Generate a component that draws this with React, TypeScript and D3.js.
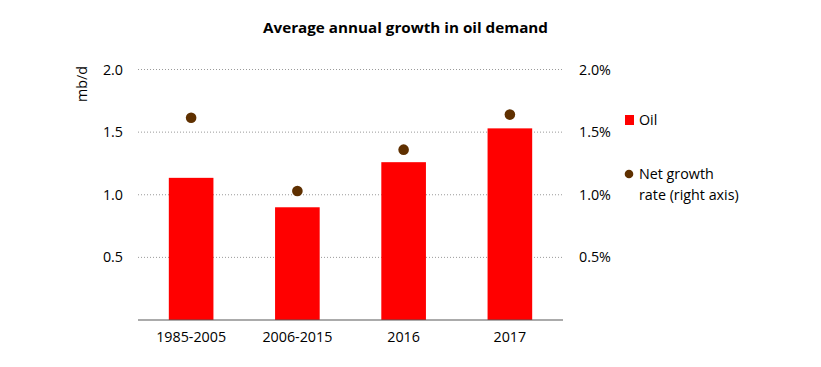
import React from 'react';
import * as d3 from 'd3';

// values
const periods = ['1985-2005', '2006-2015', '2016', '2017'];
const oilGrowth = [1.135, 0.9, 1.26, 1.53];      // mb/d
const netGrowthRate = [1.615, 1.03, 1.36, 1.64]; // %, right axis
const leftTicks = [0.5, 1.0, 1.5, 2.0];
const rightTicks = [0.5, 1.0, 1.5, 2.0];

const W = 821;
const H = 367;
const font = '"Open Sans", "Liberation Sans", Arial, sans-serif';

export default function App() {
  const left = 138, right = 563, top = 69.5, bottom = 320;

  const x = d3.scaleBand<string>()
    .domain(periods)
    .range([left, right])
    .paddingInner(0.58)
    .paddingOuter(0.29);
  const y = d3.scaleLinear().domain([0, 2]).range([bottom, top]);
  const y2 = d3.scaleLinear().domain([0, 2]).range([bottom, top]);
  const bw = x.bandwidth();
  const fs = 14.3;

  return (
    <svg width={W} height={H} style={{ position: 'absolute', left: 0, top: 0, background: '#fff' }}
      fontFamily={font}>
      <text x={405.5} y={33} textAnchor="middle" fontSize={14.5} fontWeight="bold" fill="#000"
        textLength={285} lengthAdjust="spacingAndGlyphs">
        Average annual growth in oil demand
      </text>

      {/* gridlines */}
      {leftTicks.map(t => (
        <line key={'g' + t} x1={left} x2={right} y1={y(t)} y2={y(t)}
          stroke="#9a9a9a" strokeWidth={1} strokeDasharray="1,2" />
      ))}

      {/* left axis labels */}
      {leftTicks.map(t => (
        <text key={'l' + t} x={123} y={y(t)} dy="0.35em" textAnchor="end" fontSize={fs} fill="#000">
          {d3.format('.1f')(t)}
        </text>
      ))}
      <text transform="translate(87,84) rotate(-90)" textAnchor="middle" fontSize={fs} fill="#000">mb/d</text>

      {/* right axis labels */}
      {rightTicks.map(t => (
        <text key={'r' + t} x={579} y={y2(t)} dy="0.35em" textAnchor="start" fontSize={fs} fill="#000">
          {d3.format('.1f')(t)}%
        </text>
      ))}

      {/* bars */}
      {periods.map((p, i) => (
        <rect key={'b' + p} x={x(p)} y={y(oilGrowth[i])} width={bw}
          height={bottom - y(oilGrowth[i])} fill="#ff0000" />
      ))}

      {/* x axis */}
      <line x1={left} x2={right} y1={bottom} y2={bottom} stroke="#595959" strokeWidth={1.2} />
      {periods.map(p => (
        <text key={'x' + p} x={(x(p) ?? 0) + bw / 2} y={342} textAnchor="middle" fontSize={fs} fill="#000">
          {p}
        </text>
      ))}

      {/* dots */}
      {periods.map((p, i) => (
        <circle key={'d' + p} cx={(x(p) ?? 0) + bw / 2} cy={y2(netGrowthRate[i])} r={5.3} fill="#5f3000" />
      ))}

      {/* legend */}
      <rect x={625} y={115} width={9} height={10} fill="#ff0000" />
      <text x={639} y={120} dy="0.35em" fontSize={fs} fill="#000">Oil</text>
      <circle cx={629} cy={174} r={4.3} fill="#5f3000" />
      <text x={639} y={174} dy="0.35em" fontSize={fs} fill="#000">Net growth</text>
      <text x={639} y={195} dy="0.35em" fontSize={fs} fill="#000">rate (right axis)</text>
    </svg>
  );
}
